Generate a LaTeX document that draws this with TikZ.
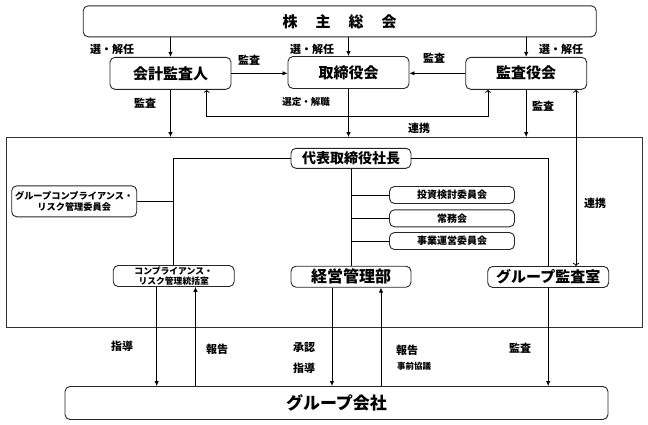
\documentclass[tikz,border=0pt]{standalone}
\usepackage{fontspec}
\setmainfont{Noto Sans CJK JP}
\usetikzlibrary{arrows.meta}

\tikzset{
  box/.style={draw=black!85, rounded corners=5pt, line width=0.9pt, inner sep=0pt, align=center},
  lbl/.style={inner sep=0pt, font=\bfseries\fontsize{11}{13}\selectfont},
  arr/.style={-{Latex[length=5pt,width=4.5pt]}, line width=0.8pt},
  lnk/.style={{To[length=3pt,width=6pt]}-{To[length=3pt,width=6pt]}, line width=0.8pt},
  wire/.style={line width=0.8pt},
}

\begin{document}
\begin{tikzpicture}[x=1pt,y=-1pt]
   \useasboundingbox (0,0) rectangle (648,424);

   % top level
   \node (soukai) [box, minimum width=513, minimum height=31, font=\bfseries\fontsize{15}{17}\selectfont]
     at (339.7,21.3) {株\hspace{1.2em}主\hspace{1.2em}総\hspace{1.2em}会};
   \node (kaikei) [box, minimum width=121, minimum height=32, font=\bfseries\fontsize{15}{17}\selectfont]
     at (170.5,73.3) {会計監査人};
   \node (torishimari) [box, minimum width=121, minimum height=32, font=\bfseries\fontsize{15}{17}\selectfont]
     at (348.5,72.5) {取締役会};
   \node (kansayaku) [box, minimum width=121, minimum height=32, font=\bfseries\fontsize{15}{17}\selectfont]
     at (526.2,73.3) {監査役会};

   % company frame
   \node (frame) [draw=black!80, line width=0.9pt, minimum width=636, minimum height=190, inner sep=0pt]
     at (324,232.5) {};

   \node (shacho) [box, minimum width=120, minimum height=20, font=\bfseries\fontsize{14}{16}\selectfont]
     at (351,158.3) {代表取締役社長};
   \node (grpcomm) [box, minimum width=125, minimum height=31, font=\bfseries\fontsize{9.2}{11}\selectfont]
     at (74.2,201.3) {グループコンプライアンス・\\リスク管理委員会};
   \node (toushi) [box, minimum width=125, minimum height=17, font=\bfseries\fontsize{10}{12}\selectfont]
     at (452,195) {投資検討委員会};
   \node (joumu) [box, minimum width=125, minimum height=17, font=\bfseries\fontsize{10}{12}\selectfont]
     at (452,218.3) {常務会};
   \node (jigyou) [box, minimum width=125, minimum height=17, font=\bfseries\fontsize{10}{12}\selectfont]
     at (452,241) {事業運営委員会};
   \node (compl) [box, minimum width=121, minimum height=21, font=\bfseries\fontsize{8.8}{10}\selectfont]
     at (173.7,276) {コンプライアンス・\\リスク管理統括室};
   \node (keiei) [box, minimum width=120, minimum height=21, font=\bfseries\fontsize{16}{18}\selectfont]
     at (351,276.7) {経営管理部};
   \node (kansashitsu) [box, minimum width=121, minimum height=21, font=\bfseries\fontsize{15}{17}\selectfont]
     at (548.2,277) {グループ監査室};

   \node (kaisha) [box, minimum width=543, minimum height=33, font=\bfseries\fontsize{17}{19}\selectfont]
     at (336.5,403) {グループ会社};

   % election and audit
   \draw [arr] (kaikei.north |- soukai.south) -- (kaikei.north);
   \draw [arr] (torishimari.north |- soukai.south) -- (torishimari.north);
   \draw [arr] (kansayaku.north |- soukai.south) -- (kansayaku.north);
   \draw [arr] (kaikei.east) -- (torishimari.west |- kaikei.east);
   \draw [arr] (kansayaku.west) -- (torishimari.east |- kansayaku.west);
   \draw [arr] (kaikei.south) -- (kaikei.south |- frame.north);
   \draw [arr] (torishimari.south) -- (torishimari.south |- frame.north);
   \draw [arr] (kansayaku.south) -- (kansayaku.south |- frame.north);

   \coordinate (renkeiL) at (206.7,116);
   \coordinate (renkeiR) at (488,116);
   \coordinate (renkeiV) at (576,0);
   \draw [lnk] (kaikei.south -| renkeiL) |- (renkeiR) -- (kansayaku.south -| renkeiR);
   \draw [lnk] (kansayaku.south -| renkeiV) -- (kansashitsu.north -| renkeiV);

   % inside the company
   \draw [wire] (shacho.west) -| (compl.north);
   \draw [wire] (grpcomm.east) -- (grpcomm.east -| compl.north);
   \draw [wire] (shacho.east) -| (kansashitsu.north);
   \draw [wire] (shacho.south) -- (keiei.north);
   \draw [wire] (toushi.west -| shacho.south) -- (toushi.west);
   \draw [wire] (joumu.west -| shacho.south) -- (joumu.west);
   \draw [wire] (jigyou.west -| shacho.south) -- (jigyou.west);

   % to group companies
   \draw [arr] ([xshift=-17]compl.south) -- ([xshift=-17]compl.south |- kaisha.north);
   \draw [arr] ([xshift=21.8]compl.south |- kaisha.north) -- ([xshift=21.8]compl.south);
   \draw [arr] ([xshift=-19]keiei.south) -- ([xshift=-19]keiei.south |- kaisha.north);
   \draw [arr] ([xshift=30]keiei.south |- kaisha.north) -- ([xshift=30]keiei.south);
   \draw [arr] (kansashitsu.south) -- (kansashitsu.south |- kaisha.north);

   % labels
   \node (l1) [lbl] at (112,49) {選・解任};
   \node (l2) [lbl] at (312,49) {選・解任};
   \node (l3) [lbl] at (561,49) {選・解任};
   \node (l4) [lbl] at (249,60) {監査};
   \node (l5) [lbl] at (434,58) {監査};
   \node (l6) [lbl] at (145,103) {監査};
   \node (l7) [lbl, font=\bfseries\fontsize{9.5}{11}\selectfont] at (306,101.7) {選定・解職};
   \node (l8) [lbl] at (419,128) {連携};
   \node (l9) [lbl] at (543,106.7) {監査};
   \node (l10) [lbl] at (595,203) {連携};
   \node (l11) [lbl] at (122,346.7) {指導};
   \node (l12) [lbl] at (217,349.3) {報告};
   \node (l13) [lbl] at (304,347.3) {承認};
   \node (l14) [lbl] at (304,368.3) {指導};
   \node (l15) [lbl] at (407,350.7) {報告};
   \node (l16) [lbl, font=\bfseries\fontsize{8.5}{10}\selectfont] at (414,366.7) {事前協議};
   \node (l17) [lbl] at (520,348.3) {監査};
\end{tikzpicture}
\end{document}
